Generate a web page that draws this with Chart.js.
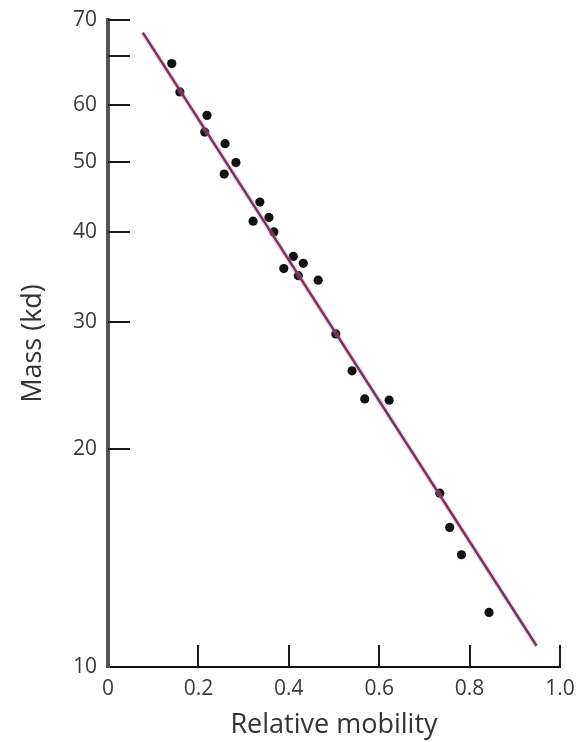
<!DOCTYPE html>
<html>
<head>
<meta charset="utf-8">
<script src="https://cdn.jsdelivr.net/npm/chart.js@4"></script>
<style>
  html, body { margin: 0; padding: 0; background: #fff; }
  #wrap { width: 578px; height: 742px; }
</style>
</head>
<body>
<div id="wrap"><canvas id="myChart" width="578" height="742"></canvas></div>
<script>
// measured points (relative mobility, mass in kd)
var mobility = [0.141, 0.159, 0.219, 0.214, 0.259, 0.283, 0.257, 0.336, 0.321, 0.356, 0.367, 0.410,
                0.389, 0.432, 0.421, 0.465, 0.504, 0.540, 0.568, 0.622, 0.734, 0.756, 0.782, 0.843];
var mass = [68.4, 62.5, 58.0, 55.0, 53.0, 49.9, 48.1, 44.0, 41.4, 41.9, 40.0, 37.0,
            35.6, 36.2, 34.8, 34.3, 28.9, 25.7, 23.5, 23.4, 17.4, 15.6, 14.3, 11.9];

// fitted line end points
var fitX = [0.077, 0.948];
var fitY = [75.5, 10.7];

var xTickValues = [0, 0.2, 0.4, 0.6, 0.8, 1.0];
var xTickLabels = ["0", "0.2", "0.4", "0.6", "0.8", "1.0"];
var yTickValues = [10, 20, 30, 40, 50, 60, 70, 78.6];
var yTickLabels = ["10", "20", "30", "40", "50", "60", "", "70"];

var points = mobility.map(function (m, i) { return { x: m, y: mass[i] }; });
var fitLine = fitX.map(function (v, i) { return { x: v, y: fitY[i] }; });

// short tick marks pointing into the plot
var innerTicks = {
  id: "innerTicks",
  beforeDatasetsDraw: function (chart) {
    var ctx = chart.ctx;
    var xs = chart.scales.x, ys = chart.scales.y;
    var area = chart.chartArea;
    ctx.save();
    ctx.strokeStyle = "#1a1a1a";
    ctx.lineWidth = 2;
    ctx.beginPath();
    yTickValues.forEach(function (v) {
      if (v === 10) return;
      var py = Math.round(ys.getPixelForValue(v));
      ctx.moveTo(area.left, py);
      ctx.lineTo(area.left + 22, py);
    });
    xTickValues.forEach(function (v) {
      if (v === 0) return;
      var px = Math.round(xs.getPixelForValue(v));
      ctx.moveTo(px, area.bottom);
      ctx.lineTo(px, area.bottom - 22);
    });
    ctx.stroke();
    ctx.restore();
  }
};

new Chart("myChart", {
  type: "scatter",
  data: {
    datasets: [
      {
        type: "line",
        data: fitLine,
        borderColor: "rgba(235,130,180,0.35)",
        borderWidth: 5,
        pointRadius: 0,
        fill: false
      },
      {
        type: "line",
        data: fitLine,
        borderColor: "#3a0d2c",
        borderWidth: 2.5,
        pointRadius: 0,
        fill: false
      },
      {
        data: points,
        backgroundColor: "#111",
        borderColor: "#111",
        pointRadius: 4.6,
        borderWidth: 0
      }
    ]
  },
  options: {
    responsive: false,
    animation: false,
    layout: { padding: { top: 20, right: 18, left: 0, bottom: 0 } },
    plugins: { legend: { display: false }, tooltip: { enabled: false } },
    scales: {
      x: {
        type: "linear",
        min: 0,
        max: 1.0,
        afterBuildTicks: function (scale) {
          scale.ticks = xTickValues.map(function (v) { return { value: v }; });
        },
        afterFit: function (scale) {
          scale.height = 75;
          scale.paddingLeft = 0;
          scale.paddingRight = 0;
        },
        grid: { display: false, drawTicks: false },
        border: { display: true, color: "#111", width: 2 },
        ticks: {
          padding: 9,
          color: "#3a3a3a",
          font: { family: "Open Sans", size: 21 },
          callback: function (v, i) { return xTickLabels[i]; }
        },
        title: {
          display: true,
          text: "Relative mobility",
          color: "#333",
          font: { family: "Open Sans", size: 27 },
          padding: { top: 0, bottom: 0 }
        }
      },
      y: {
        type: "logarithmic",
        min: 10,
        max: 78.6,
        afterBuildTicks: function (scale) {
          scale.ticks = yTickValues.map(function (v) { return { value: v }; });
        },
        afterFit: function (scale) {
          scale.width = 108;
          scale.paddingTop = 0;
          scale.paddingBottom = 0;
        },
        grid: { display: false, drawTicks: false },
        border: { display: true, color: "#555", width: 4 },
        ticks: {
          padding: 11,
          color: "#3a3a3a",
          font: { family: "Open Sans", size: 21 },
          callback: function (v, i) { return yTickLabels[i]; }
        },
        title: {
          display: true,
          text: "Mass (kd)",
          color: "#333",
          font: { family: "Open Sans", size: 27 },
          padding: { top: 17, bottom: 0 }
        }
      }
    }
  },
  plugins: [innerTicks]
});
</script>
</body>
</html>
